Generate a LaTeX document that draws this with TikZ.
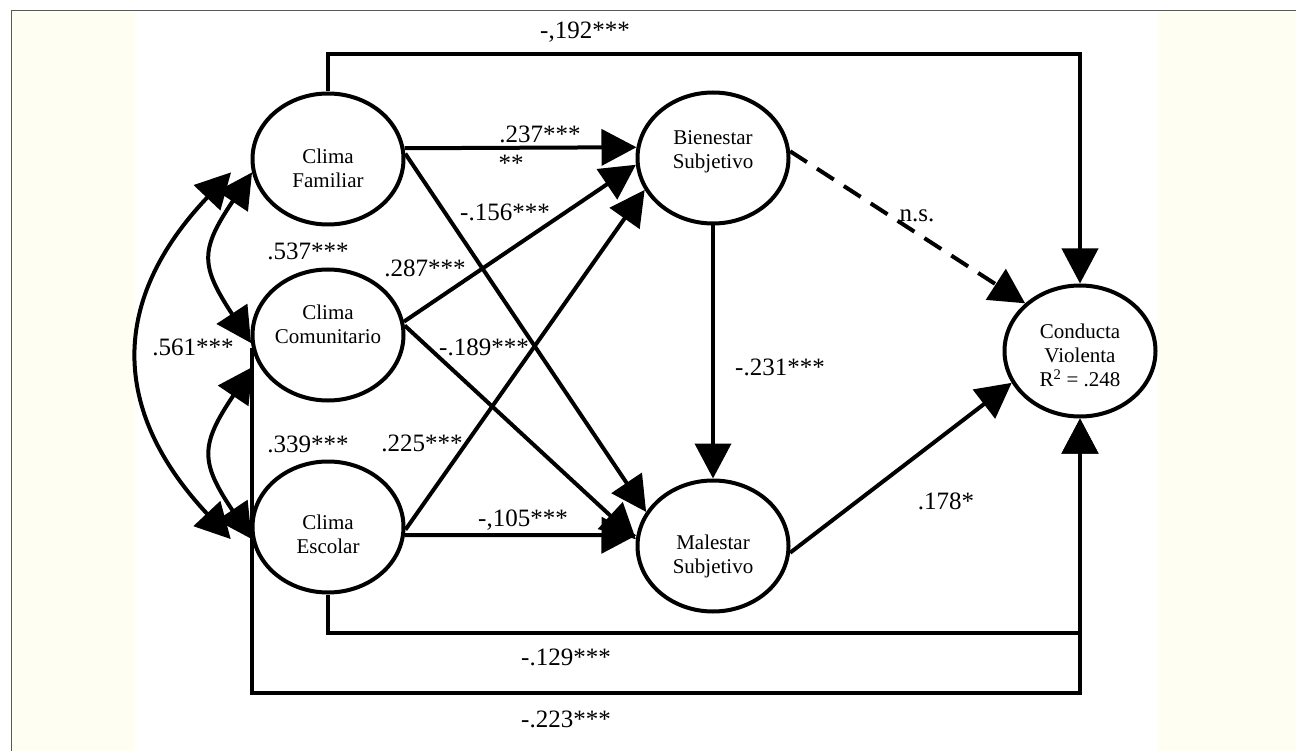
\documentclass[tikz,border=0pt]{standalone}
\usepackage{fontspec}
\setmainfont{Liberation Serif}
\usetikzlibrary{shapes.geometric,arrows.meta}
\definecolor{crema}{RGB}{255,254,242}
\newcommand{\rotulo}[2]{\raisebox{#1}[0pt][0pt]{\begin{tabular}{@{}c@{}}#2\end{tabular}}}

\begin{document}
\begin{tikzpicture}[x = 1pt, y = -1pt,
  latente/.style = {ellipse, draw, line width = 4pt, minimum width = 151pt, minimum height = 131pt, inner sep = 0pt, font = \fontsize{21}{24}\selectfont},
  flecha/.style = {line width = 4pt, -{Triangle[length = 35pt, width = 36pt]}},
  corr/.style = {line width = 4pt, {Triangle[length = 35pt, width = 36pt]}-{Triangle[length = 35pt, width = 36pt]}},
  coef/.style = {inner sep = 0pt, font = \fontsize{25}{30}\selectfont}]
\useasboundingbox (0,0) rectangle (1296,751);
\fill [crema] (12,12) rectangle (135,751);
\fill [crema] (1158,12) rectangle (1296,751);
\draw [gray!70!black, line width = 1pt] (11,751) -- (11,11) -- (1296,11);

\node [latente] (fam) at (328,159) {\rotulo{-17pt}{Clima\\Familiar}};
\node [latente] (com) at (328,335) {\rotulo{3pt}{Clima\\Comunitario}};
\node [latente] (esc) at (328,527) {\rotulo{-15pt}{Clima\\Escolar}};
\node [latente] (bie) at (713,158) {\rotulo{1pt}{Bienestar\\Subjetivo}};
\node [latente] (mal) at (713,546) {\rotulo{-16pt}{Malestar\\Subjetivo}};
\node [latente] (con) at (1080,351) {\rotulo{-12pt}{Conducta\\Violenta\\R\textsuperscript{2} = .248}};

\coordinate (alto) at (0,54);
\coordinate (bajo1) at (0,633);
\coordinate (bajo2) at (0,693);

\draw [flecha] (fam.8) -- (bie.172);
\draw [flecha] (fam.4) -- (mal.153);
\draw [flecha] (com.10) -- (bie.185);
\draw [flecha] (com.7) -- (mal.175);
\draw [flecha] (esc.-2) -- (bie.205);
\draw [flecha] (esc.-6) -- (mal.172);
\draw [flecha] (bie.south) -- (mal.north);
\draw [flecha, dash pattern = on 20pt off 12pt] (bie.5) -- (con.139);
\draw [flecha] (mal.-5) -- (con.205);
\draw [flecha] (fam.north) -- (fam.north |- alto) -| (con.north);
\draw [flecha] (esc.south) -- (esc.south |- bajo1) -| (con.south);
\draw [flecha] (com.190) -- (com.190 |- bajo2) -| (con.south);
\draw [corr] (fam.190) .. controls (200,250) and (200,265) .. (com.186);
\draw [corr] ([xshift = -7pt]com.205) .. controls (200,445) and (200,462) .. (esc.189);
\draw [corr] ([xshift = -21pt]fam.190) .. controls (110,300) and (110,410) .. ([xshift = -21pt]esc.189);

\node [coef] (b192) at (585,32) {-,192***};
\node [coef] (b237) at (540,134) {.237***};
\node [coef] (b237b) at (511,163) {**};
\node [coef] (b156) at (505,212) {-.156***};
\node [coef] (b287) at (425,268) {.287***};
\node [coef] (b189) at (484,347) {-.189***};
\node [coef] (b225) at (422,443) {.225***};
\node [coef] (b105) at (523,520) {-,105***};
\node [coef] (b537) at (308,251) {.537***};
\node [coef] (b561) at (193,347) {.561***};
\node [coef] (b339) at (308,444) {.339***};
\node [coef] (b231) at (780,367) {-.231***};
\node [coef] (bns) at (917,216) {n.s.};
\node [coef] (b178) at (946,501) {.178*};
\node [coef] (b129) at (566,657) {-.129***};
\node [coef] (b223) at (566,719) {-.223***};
\end{tikzpicture}
\end{document}
